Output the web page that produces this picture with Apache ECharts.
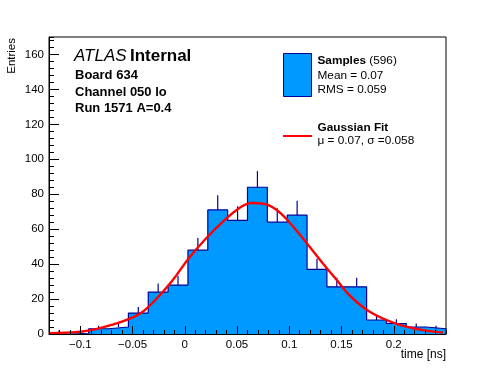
<!DOCTYPE html>
<html><head><meta charset="utf-8">
<script src="https://cdn.jsdelivr.net/npm/echarts@6/dist/echarts.min.js"></script>
<style>html,body{margin:0;padding:0;background:#fff}#c{width:496px;height:372px}</style>
</head><body><div id="c"></div>
<script>
// ---- data ----
const binEdges = [-0.13, -0.111, -0.092, -0.073, -0.054, -0.035, -0.016, 0.003, 0.022, 0.041, 0.060,
                  0.079, 0.098, 0.117, 0.136, 0.155, 0.174, 0.193, 0.212, 0.231, 0.250];
const counts = [1, 0, 3, 4, 12, 24, 28, 48, 71, 65, 84, 64, 68, 37, 27, 27, 8, 6, 4, 3];
const errors = [1, 0, 1.7, 2, 3.5, 4.9, 5.3, 6.9, 8.4, 8.1, 9.2, 8, 8.2, 6.1, 5.2, 5.2, 2.8, 2.4, 2, 1.7];
const fitX = [-0.13, -0.115, -0.10, -0.085, -0.07, -0.055, -0.042, -0.029, -0.012, 0.004, 0.020, 0.036,
              0.052, 0.064, 0.076, 0.088, 0.100, 0.116, 0.132, 0.148, 0.157, 0.167, 0.177, 0.189,
              0.202, 0.215, 0.231, 0.247];
const fitY = [0.4, 0.7, 1.3, 2.8, 5.2, 8.2, 12, 19, 30.5, 43.5, 54.5, 64, 72, 75, 74.5, 71, 64, 52.5,
              40.5, 29, 22.5, 17, 12.7, 9, 6, 3.8, 1.9, 0.8];
const xMajorTicks = [-0.1, -0.05, 0, 0.05, 0.1, 0.15, 0.2];
const yMajorTicks = [0, 20, 40, 60, 80, 100, 120, 140, 160];
const xRange = [-0.13, 0.25];
const yRange = [0, 170];

// ---- derived structures ----
const errData = counts.map((c, i) => [(binEdges[i] + binEdges[i + 1]) / 2, c, errors[i]]);
const stepData = [[binEdges[0], 0]];
counts.forEach((c, i) => { stepData.push([binEdges[i], c]); stepData.push([binEdges[i + 1], c]); });
stepData.push([binEdges[binEdges.length - 1], 0]);
const fitData = fitX.map((x, i) => [x, fitY[i]]);

const FONT = 'Liberation Sans, Arial, Helvetica, sans-serif';
const FILL = '#0099ff';
const NAVY = '#000099';

const fmtX = v => {
  const n = Math.round(v * 1000) / 1000;
  return (n < 0 ? '\u2212' : '') + String(Math.abs(n));
};

const chart = echarts.init(document.getElementById('c'), null, {renderer: 'canvas'});
chart.setOption({
  backgroundColor: '#fff',
  animation: false,
  grid: {left: 49, top: 37, right: 50, bottom: 38, show: true, borderColor: '#000', borderWidth: 1, backgroundColor: 'transparent'},
  xAxis: [
    {type: 'value', min: xRange[0], max: xRange[1], position: 'bottom', z: 10,
     axisLine: {show: true, onZero: false, lineStyle: {color: '#000', width: 1}},
     axisTick: {show: true, inside: true, length: 8, customValues: xMajorTicks, lineStyle: {color: '#000', width: 1}},
     axisLabel: {show: true, customValues: xMajorTicks, formatter: fmtX, color: '#000', fontSize: 11.5, fontFamily: FONT, margin: 5},
     splitLine: {show: false}},
    {type: 'value', min: xRange[0], max: xRange[1], interval: 0.01, position: 'bottom', z: 10,
     axisLine: {show: false, onZero: false},
     axisTick: {show: true, inside: true, length: 4, lineStyle: {color: '#000', width: 1}},
     axisLabel: {show: false}, splitLine: {show: false}}
  ],
  yAxis: [
    {type: 'value', min: yRange[0], max: yRange[1], position: 'left', z: 10,
     axisLine: {show: true, onZero: false, lineStyle: {color: '#000', width: 1}},
     axisTick: {show: true, inside: true, length: 10, customValues: yMajorTicks, lineStyle: {color: '#000', width: 1}},
     axisLabel: {show: true, customValues: yMajorTicks, color: '#000', fontSize: 11.5, fontFamily: FONT, margin: 5},
     splitLine: {show: false}},
    {type: 'value', min: yRange[0], max: yRange[1], interval: 4, position: 'left', z: 10,
     axisLine: {show: false, onZero: false},
     axisTick: {show: true, inside: true, length: 5, lineStyle: {color: '#000', width: 1}},
     axisLabel: {show: false}, splitLine: {show: false}}
  ],
  series: [
    {type: 'line', name: 'Samples', xAxisIndex: 0, yAxisIndex: 0, data: stepData, z: 3, showSymbol: false, symbol: 'none',
     lineStyle: {color: NAVY, width: 1.2},
     areaStyle: {color: FILL, opacity: 1, origin: 'start'}},
    {type: 'custom', xAxisIndex: 0, yAxisIndex: 0, data: errData, z: 3,
     encode: {x: 0, y: 1},
     renderItem: (params, api) => {
       const a = api.coord([api.value(0), api.value(1)]);
       const b = api.coord([api.value(0), api.value(1) + api.value(2)]);
       return {type: 'line', shape: {x1: a[0], y1: a[1], x2: b[0], y2: b[1]},
               style: {stroke: NAVY, lineWidth: 1.2}};
     }},
    {type: 'line', name: 'Gaussian Fit', xAxisIndex: 0, yAxisIndex: 0, data: fitData, z: 4, smooth: 0.4, showSymbol: false, symbol: 'none',
     lineStyle: {color: '#ff0000', width: 2.4}}
  ],
  graphic: [
    {type: 'text', x: 74, y: 56, z: 20, style: {text: '{i|ATLAS} {b|Internal}', verticalAlign: 'middle', fill: '#000',
      rich: {i: {fontStyle: 'italic', fontSize: 17, fontFamily: FONT, fill: '#000'},
             b: {fontWeight: 'bold', fontSize: 17, fontFamily: FONT, fill: '#000'}}}},
    {type: 'text', x: 75, y: 75.5, z: 20, style: {text: 'Board 634', font: 'bold 13px ' + FONT, fill: '#000', verticalAlign: 'middle'}},
    {type: 'text', x: 75, y: 92.2, z: 20, style: {text: 'Channel 050 lo', font: 'bold 13px ' + FONT, fill: '#000', verticalAlign: 'middle'}},
    {type: 'text', x: 75, y: 108.8, z: 20, style: {text: 'Run 1571 A=0.4', font: 'bold 13px ' + FONT, fill: '#000', verticalAlign: 'middle'}},
    {type: 'rect', z: 20, shape: {x: 283.5, y: 53.5, width: 28, height: 43}, style: {fill: FILL, stroke: NAVY, lineWidth: 1}},
    {type: 'text', x: 317.5, y: 60.8, z: 20, style: {text: '{b|Samples} (596)', verticalAlign: 'middle', fill: '#000', font: '11.8px ' + FONT,
      rich: {b: {fontWeight: 'bold', fontSize: 11.8, fontFamily: FONT, fill: '#000'}}}},
    {type: 'text', x: 317.5, y: 76, z: 20, style: {text: 'Mean = 0.07', font: '11.8px ' + FONT, fill: '#000', verticalAlign: 'middle'}},
    {type: 'text', x: 317.5, y: 89.3, z: 20, style: {text: 'RMS = 0.059', font: '11.8px ' + FONT, fill: '#000', verticalAlign: 'middle'}},
    {type: 'line', z: 20, shape: {x1: 283, y1: 136, x2: 312, y2: 136}, style: {stroke: '#ff0000', lineWidth: 2}},
    {type: 'text', x: 317.5, y: 128.1, z: 20, style: {text: 'Gaussian Fit', font: 'bold 11.8px ' + FONT, fill: '#000', verticalAlign: 'middle'}},
    {type: 'text', x: 317.5, y: 141, z: 20, style: {text: '\u03bc = 0.07, \u03c3 =0.058', font: '11.8px ' + FONT, fill: '#000', verticalAlign: 'middle'}},
    {type: 'text', x: 446, y: 355, z: 20, style: {text: 'time [ns]', font: '12px ' + FONT, fill: '#000', align: 'right', verticalAlign: 'middle'}},
    {type: 'text', x: 12, y: 38, rotation: Math.PI / 2, z: 20, style: {text: 'Entries', font: '11.5px ' + FONT, fill: '#000', align: 'right', verticalAlign: 'middle'}}
  ]
});
</script>
</body></html>
